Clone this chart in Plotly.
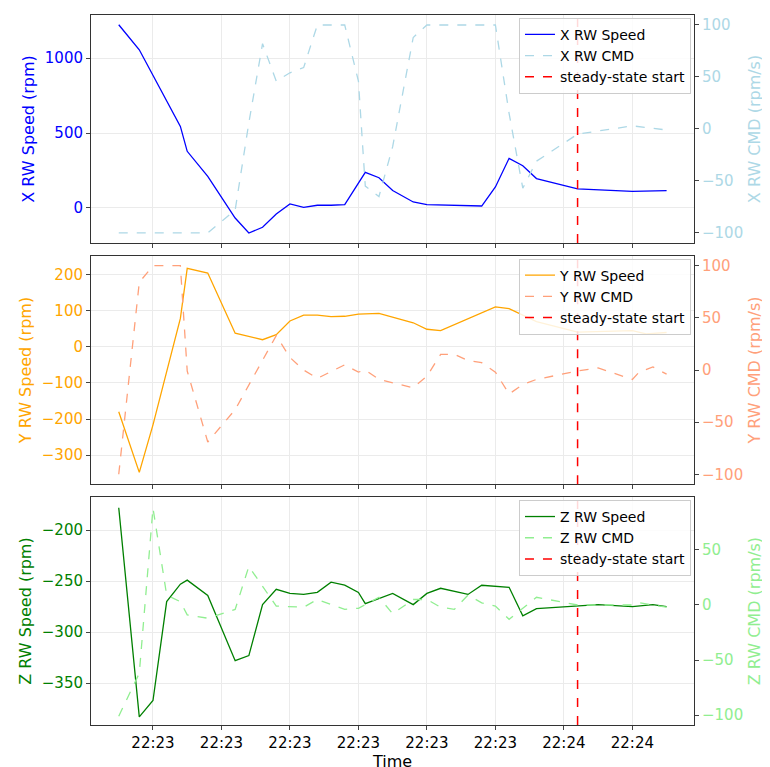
import pandas as pd
import plotly.graph_objects as go

BASE = pd.Timestamp("2024-01-01 22:23:00")
STEADY_S = 62

# seconds after 22:23:00
x_speed_t = [-5, -2, 4, 5, 8, 12, 14, 16, 18, 20, 22, 24, 26, 28, 31, 33, 35, 38, 40, 48, 50, 52, 54, 56, 62, 70, 75]
x_speed = [1222, 1055, 544, 378, 211, -67, -167, -129, -40, 27, 4, 18, 18, 22, 238, 202, 116, 40, 22, 13, 140, 331, 282, 196, 127, 111, 116]
x_cmd_t = [-5, 8, 12, 14, 16, 18, 20, 22, 24, 28, 30, 31, 33, 35, 38, 40, 50, 52, 54, 56, 62, 65, 70, 75]
x_cmd = [-100, -100, -78, 6, 82, 46, 54, 59, 100, 100, 46, -55, -65, -17, 88, 100, 100, 15, -57, -31, -5, -2, 3, -1]

y_speed_t = [-5, -2, 0, 4, 5, 8, 12, 16, 18, 20, 22, 24, 26, 28, 30, 33, 38, 40, 42, 50, 52, 56, 62, 70, 72, 75]
y_speed = [-180, -348, -216, 79, 218, 205, 38, 20, 34, 72, 88, 88, 84, 85, 91, 93, 67, 49, 45, 111, 106, 70, 41, 45, 36, 40]
y_cmd_t = [-5, -2, 0, 4, 5, 8, 12, 18, 20, 22, 24, 28, 30, 31, 33, 38, 40, 42, 44, 46, 48, 50, 52, 54, 56, 62, 65, 70, 71, 73, 75]
y_cmd = [-100, 84, 100, 100, -1, -69, -38, 33, 12, 0, -8, 5, -2, 0, -9, -17, -6, 15, 15, 9, 7, -2, -23, -14, -9, -1, 2, -9, -2, 3, -4]

z_speed_t = [-5, -2, 0, 2, 4, 5, 8, 12, 14, 16, 18, 20, 22, 24, 26, 28, 30, 31, 35, 38, 40, 42, 46, 48, 52, 54, 56, 62, 65, 70, 73, 75]
z_speed = [-178, -383, -367, -270, -253, -249, -264, -328, -323, -273, -258, -262, -263, -261, -251, -254, -261, -272, -262, -273, -262, -257, -263, -254, -256, -284, -277, -274, -273, -275, -273, -275]
z_cmd_t = [-5, -2, 0, 2, 4, 5, 8, 12, 14, 18, 22, 24, 28, 30, 33, 35, 38, 40, 42, 44, 46, 48, 50, 52, 56, 62, 70, 71, 75]
z_cmd = [-101, -62, 88, 9, 3, -9, -12, -4, 35, -1, -2, 5, -4, -3, 7, -8, 5, 5, -2, -4, 9, 2, -1, -13, 7, 0, 0, 2, -2]

def ts(sec):
    return [BASE + pd.Timedelta(seconds=s) for s in sec]

FONT = "DejaVu Sans"
fig = go.Figure()

panels = [
    ("X", x_speed_t, x_speed, x_cmd_t, x_cmd, "blue", "lightblue", [-233, 1287], [-109.6, 109.6], [0.679, 1.0], "legend"),
    ("Y", y_speed_t, y_speed, y_cmd_t, y_cmd, "orange", "lightsalmon", [-381, 253], [-109.6, 109.6], [0.339, 0.661], "legend2"),
    ("Z", z_speed_t, z_speed, z_cmd_t, z_cmd, "green", "lightgreen", [-391, -167.6], [-109, 98], [0.0, 0.321], "legend3"),
]

for i, (ax, st, sv, ct, cv, c1, c2, r1, r2, dom, leg) in enumerate(panels):
    n = i + 1
    xa = "x" if n == 1 else f"x{n}"
    ya = f"y{2*n-1}" if n > 1 else "y"
    yb = f"y{2*n}"
    fig.add_trace(go.Scatter(x=ts(st), y=sv, mode="lines", line=dict(color=c1, width=1.3),
                             name=f"{ax} RW Speed", xaxis=xa, yaxis=ya, legend=leg))
    fig.add_trace(go.Scatter(x=ts(ct), y=cv, mode="lines", line=dict(color=c2, width=1.3, dash="dash"),
                             name=f"{ax} RW CMD", xaxis=xa, yaxis=yb, legend=leg))
    fig.add_trace(go.Scatter(x=[None], y=[None], mode="lines", line=dict(color="red", width=1.5, dash="dash"),
                             name="steady-state start", xaxis=xa, yaxis=ya, legend=leg))
    fig.add_shape(type="line", xref=xa, yref=f"{ya} domain", x0=BASE + pd.Timedelta(seconds=STEADY_S),
                  x1=BASE + pd.Timedelta(seconds=STEADY_S), y0=0, y1=1,
                  line=dict(color="red", width=1.5, dash="dash"))
    xk = "xaxis" if n == 1 else f"xaxis{n}"
    yk = "yaxis" if n == 1 else f"yaxis{2*n-1}"
    ykb = f"yaxis{2*n}"
    fig.layout[xk] = dict(domain=[0, 1], anchor=ya, automargin=False,
                          range=[BASE + pd.Timedelta(seconds=-9.05), BASE + pd.Timedelta(seconds=79)],
                          type="date", tickformat="%H:%M", dtick=10000, tick0=BASE,
                          showgrid=True, gridcolor="#ebebeb", showline=True, linecolor="#333", mirror=True,
                          ticks="outside", ticklen=4, showticklabels=(n == 3),
                          tickfont=dict(size=15, color="black"),
                          title=dict(text="Time" if n == 3 else "", font=dict(size=16), standoff=2))
    if n > 1:
        fig.layout[xk]["matches"] = "x"
    fig.layout[yk] = dict(domain=dom, anchor=xa, range=r1, showgrid=True, gridcolor="#ebebeb",
                          automargin=False,
                          showline=True, linecolor="#333", ticks="outside", ticklen=4, zeroline=False,
                          tickfont=dict(size=15, color=c1),
                          title=dict(text=f"{ax} RW Speed (rpm)", font=dict(size=16, color=c1), standoff=6))
    fig.layout[ykb] = dict(overlaying=ya, side="right", anchor=xa, range=r2, showgrid=False,
                           automargin=False,
                           showline=True, linecolor="#333", ticks="outside", ticklen=4, zeroline=False,
                           tickfont=dict(size=15, color=c2), dtick=50,
                           title=dict(text=f"{ax} RW CMD (rpm/s)", font=dict(size=16, color=c2), standoff=6))
    fig.layout[leg] = dict(x=0.995, y=dom[1] - 0.004, xanchor="right", yanchor="top",
                           bgcolor="rgba(255,255,255,0.85)", bordercolor="#ccc", borderwidth=1,
                           font=dict(size=14), tracegroupgap=0)

fig.update_layout(width=770, height=767, margin=dict(l=83, r=84, t=7, b=50, autoexpand=False),
                  plot_bgcolor="white", paper_bgcolor="white",
                  font=dict(family=FONT, color="black"))
fig.write_html("out.html")
